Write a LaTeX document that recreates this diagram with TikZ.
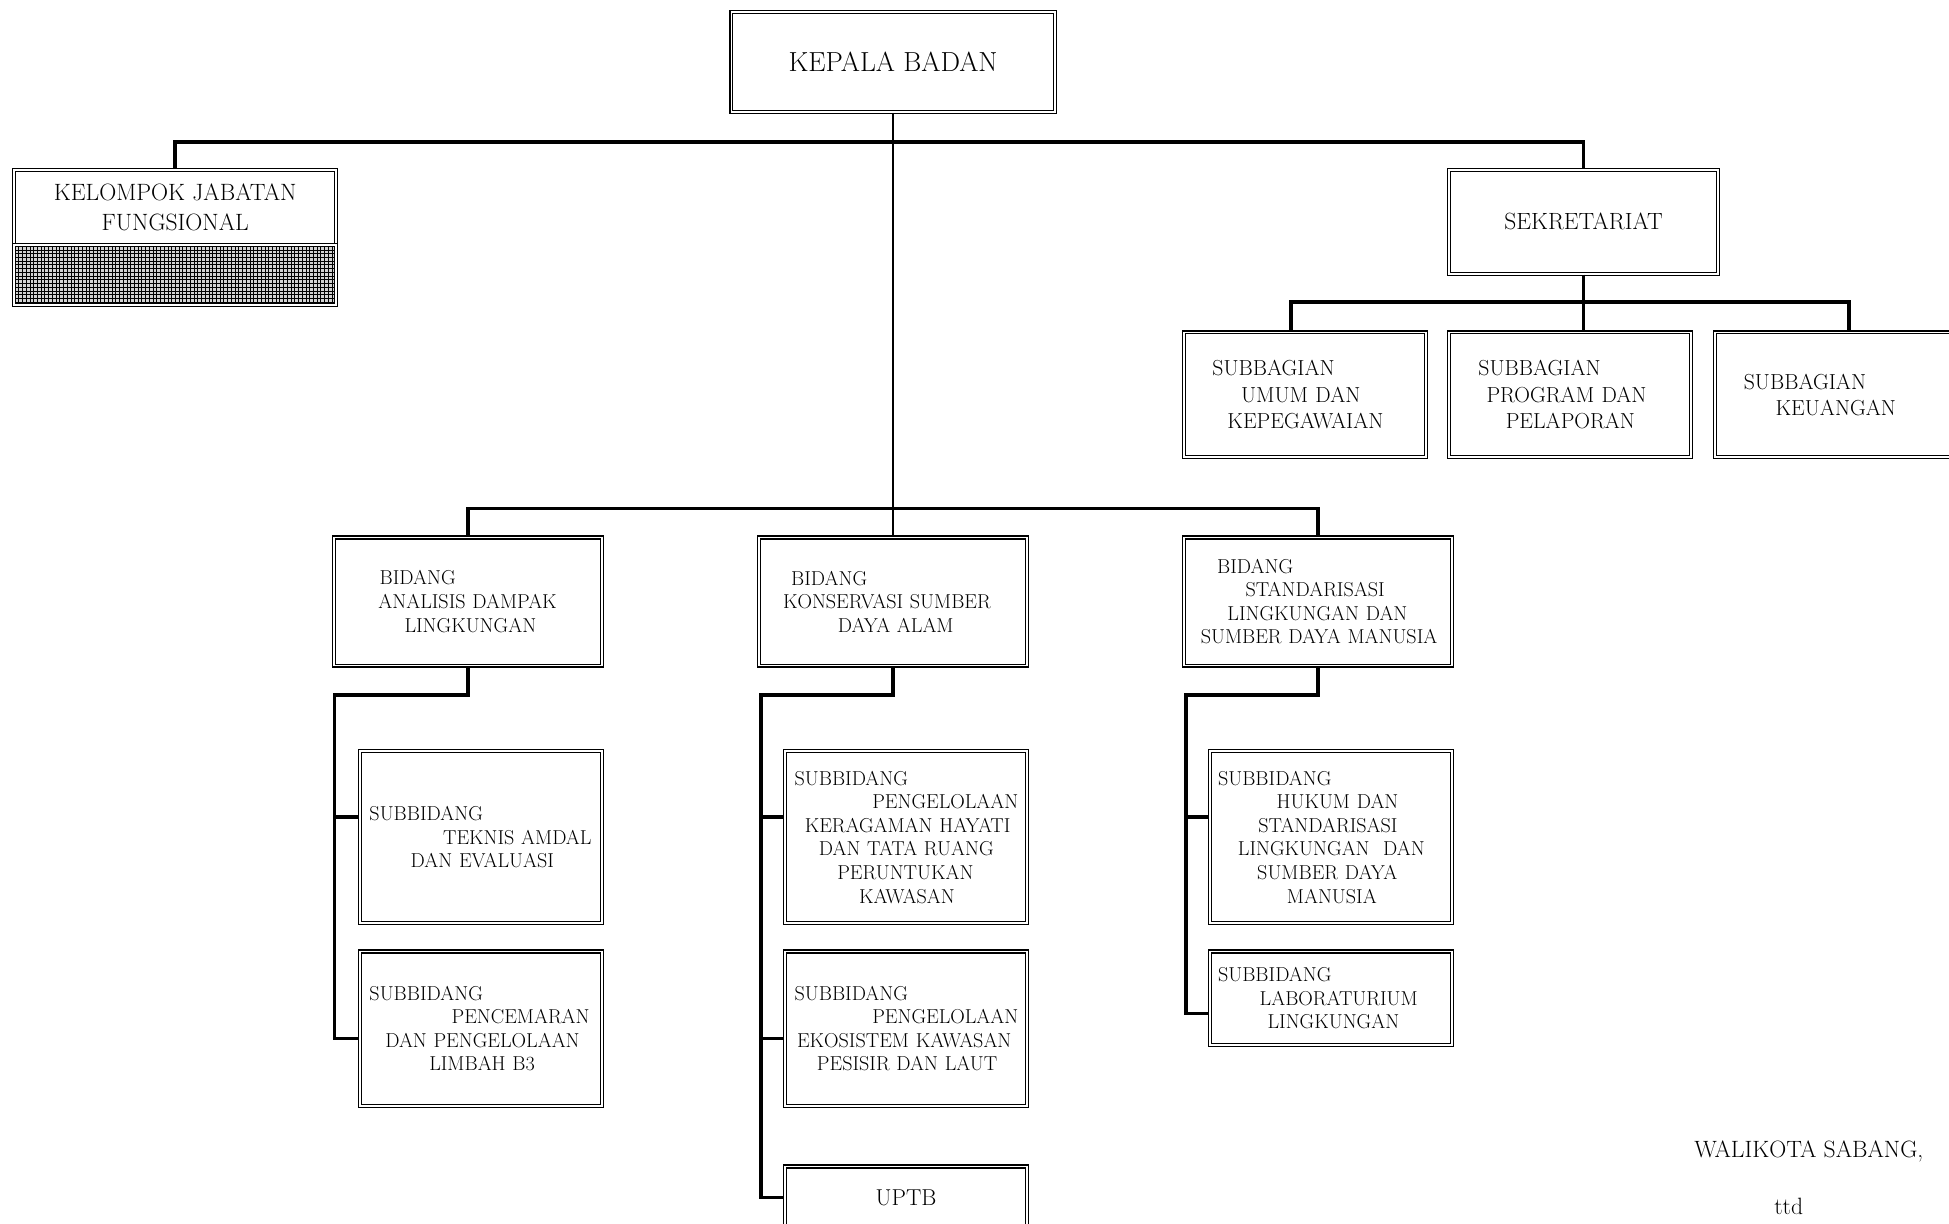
\documentclass[tikz,border=0pt]{standalone}
\usepackage{tikz}
\usetikzlibrary{patterns}
\newcommand{\lineat}[2]{\hspace*{#1pt}\mbox{#2}}

\begin{document}
\begin{tikzpicture}[x=1pt,y=-1pt,
  unit/.style={draw, double, double distance=1.5pt, line width=0.9pt, inner sep=0pt, anchor=north west},
  subunit/.style={unit, align=left, text width=#1, minimum width=#1, font=\fontsize{16.2}{19}\selectfont},
  sbunit/.style={subunit=195pt, minimum height=100pt, font=\fontsize{17.5}{21}\selectfont},
  headunit/.style={unit, align=center, font=\fontsize{18.5}{24}\selectfont},
  bus/.style={line width=3pt},
  spine/.style={line width=2.2pt}]
\useasboundingbox (0,0) rectangle (1568,984);

\node[headunit, minimum width=260pt, minimum height=81pt, font=\fontsize{22.2}{24}\selectfont] (kepala) at (588,9) {KEPALA BADAN};
\node[headunit, minimum width=259pt, minimum height=61pt, font=\fontsize{19}{24}\selectfont] (kjf) at (11,136) {KELOMPOK JABATAN\\FUNGSIONAL};
\node[unit, minimum width=259pt, minimum height=48pt, preaction={fill=gray!35}, pattern=grid] (kjfarsir) at (11,197) {};
\node[headunit, minimum width=217pt, minimum height=84pt, font=\fontsize{18.9}{24}\selectfont] (sekr) at (1165,136) {SEKRETARIAT};

\node[sbunit] (sb1) at (952,267) {\lineat{23}{SUBBAGIAN}\\\lineat{46}{UMUM DAN}\\\lineat{35}{KEPEGAWAIAN}};
\node[sbunit] (sb2) at (1165,267) {\lineat{24}{SUBBAGIAN}\\\lineat{30.5}{PROGRAM DAN}\\\lineat{46}{PELAPORAN}};
\node[sbunit] (sb3) at (1379,267) {\lineat{23.5}{SUBBAGIAN}\\\lineat{49}{KEUANGAN}};

\node[subunit=216pt, minimum height=103pt] (bid1) at (268,432) {\lineat{37}{BIDANG}\\\lineat{36}{ANALISIS DAMPAK}\\\lineat{57}{LINGKUNGAN}};
\node[subunit=216pt, minimum height=103pt] (bid2) at (610,432) {\lineat{26}{BIDANG}\\\lineat{19.5}{KONSERVASI SUMBER}\\\lineat{63.6}{DAYA ALAM}};
\node[subunit=216pt, minimum height=103pt] (bid3) at (952,432) {\lineat{26.7}{BIDANG}\\\lineat{49.6}{STANDARISASI}\\\lineat{35}{LINGKUNGAN DAN}\\\lineat{13.6}{SUMBER DAYA MANUSIA}};

\node[subunit=195pt, minimum height=138pt] (s11) at (289,604) {\lineat{7.8}{SUBBIDANG}\\\lineat{67}{TEKNIS AMDAL}\\\lineat{41}{DAN EVALUASI}};
\node[subunit=195pt, minimum height=124pt] (s12) at (289,765) {\lineat{7.8}{SUBBIDANG}\\\lineat{73.9}{PENCEMARAN}\\\lineat{20.5}{DAN PENGELOLAAN}\\\lineat{55.9}{LIMBAH B3}};
\node[subunit=195pt, minimum height=138pt] (s21) at (631,604) {\lineat{7.8}{SUBBIDANG}\\\lineat{70.3}{PENGELOLAAN}\\\lineat{16}{KERAGAMAN HAYATI}\\\lineat{27.3}{DAN TATA RUANG}\\\lineat{42.2}{PERUNTUKAN}\\\lineat{59.7}{KAWASAN}};
\node[subunit=195pt, minimum height=124pt] (s22) at (631,765) {\lineat{7.8}{SUBBIDANG}\\\lineat{70.3}{PENGELOLAAN}\\\lineat{9.8}{EKOSISTEM KAWASAN}\\\lineat{25.8}{PESISIR DAN LAUT}};
\node[headunit, minimum width=195pt, minimum height=50pt] (uptb) at (631,938) {UPTB};
\node[subunit=195pt, minimum height=138pt] (s31) at (973,604) {\lineat{6.5}{SUBBIDANG}\\\lineat{53.6}{HUKUM DAN}\\\lineat{38.9}{STANDARISASI}\\\lineat{22.5}{LINGKUNGAN~ DAN}\\\lineat{38}{SUMBER DAYA}\\\lineat{61.9}{MANUSIA}};
\node[subunit=195pt, minimum height=75pt] (s32) at (973,765) {\lineat{6.5}{SUBBIDANG}\\\lineat{40}{LABORATURIUM}\\\lineat{46.3}{LINGKUNGAN}};

\node[font=\fontsize{19}{22}\selectfont, inner sep=0pt, anchor=base west] (walikota) at (1363,931) {WALIKOTA SABANG,};
\node[font=\fontsize{19}{22}\selectfont, anchor=base] (ttd) at (1439,977) {ttd};

\draw[bus] (kjf.north) -- ++(0,-22) -| (sekr.north);
\draw[spine] (kepala.south) -- (bid2.north);
\draw[bus] (bid1.north) -- ++(0,-23) -| (bid3.north);
\draw[bus] (sekr.south) -- (sekr.south |- sb2.north);
\draw[bus] ([xshift=-11.5pt]sb1.north) -- ++(0,-24) -| ([xshift=10.5pt]sb3.north);

\draw[bus] (bid1.south) -- ++(0,23) -| ([shift={(-20pt,-8pt)}]s12.west) -- ([yshift=-8pt]s12.west);
\draw[bus] ([shift={(-20pt,16pt)}]s11.west) -- ([yshift=16pt]s11.west);
\draw[bus] (bid2.south) -- ++(0,23) -| ([xshift=-19pt]uptb.west) -- (uptb.west);
\draw[bus] ([shift={(-19pt,16pt)}]s21.west) -- ([yshift=16pt]s21.west);
\draw[bus] ([shift={(-19pt,-8pt)}]s22.west) -- ([yshift=-8pt]s22.west);
\draw[bus] (bid3.south) -- ++(0,23) -| ([shift={(-19pt,-12.5pt)}]s32.west) -- ([yshift=-12.5pt]s32.west);
\draw[bus] ([shift={(-19pt,16pt)}]s31.west) -- ([yshift=16pt]s31.west);
\end{tikzpicture}
\end{document}
